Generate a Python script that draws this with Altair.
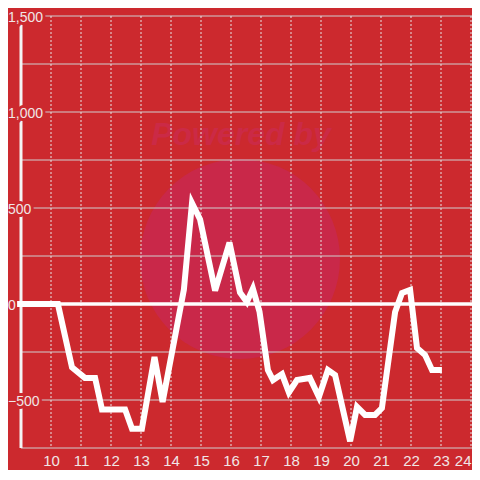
import altair as alt
import pandas as pd

# ---- data ----
hours = [8.87, 10.23, 10.7, 11.13, 11.47, 11.7, 12.47, 12.7, 13.03, 13.45, 13.72,
         14.43, 14.7, 14.97, 15.47, 15.95, 16.3, 16.53, 16.73, 16.95, 17.23, 17.4,
         17.7, 17.93, 18.2, 18.63, 18.93, 19.23, 19.47, 19.97, 20.2, 20.47, 20.8,
         21.03, 21.47, 21.7, 21.97, 22.2, 22.47, 22.7, 23.03]
values = [0, 0, -330, -385, -385, -550, -550, -650, -650, -276, -510,
          75, 526, 440, 70, 320, 60, 10, 80, -40, -344, -396,
          -365, -460, -396, -385, -484, -344, -370, -715, -536, -578, -578,
          -542, -42, 57, 73, -229, -266, -344, -344]
x_ticks = list(range(10, 25))
y_grid = [-750, -500, -250, 0, 250, 500, 750, 1000, 1250, 1500]
y_labels = [1500, 1000, 500, 0, -500]
zero_line = [0]
axis_at = [9]
watermark = ["Powered by"]

BG = "#cc292e"
FONT = "Liberation Sans"
LABEL = "#f0e6e6"

W, H = 451, 432
xs = alt.Scale(domain=[9, 9 + W / 30], nice=False, zero=False)
ys = alt.Scale(domain=[-750, 1500], nice=False, zero=False)

line_df = pd.DataFrame({"hour": hours, "value": values})
xt_df = pd.DataFrame({"hour": x_ticks})
yg_df = pd.DataFrame({"value": y_grid})
yl_df = pd.DataFrame({"value": y_labels})
z_df = pd.DataFrame({"value": zero_line})
ax_df = pd.DataFrame({"hour": axis_at})
wm_df = pd.DataFrame({"t": watermark})

x_axis = alt.Axis(values=x_ticks, format="d", grid=False, domain=False, ticks=False,
                  tickSize=0, labelPadding=5, labelFontSize=15, labelColor=LABEL,
                  labelFont=FONT, title=None, labelOverlap=False)

circle = alt.Chart(wm_df).mark_circle(size=40000, color="#c92849", opacity=1).encode(
    x=alt.value(219), y=alt.value(243))

powered = alt.Chart(wm_df).mark_text(font=FONT, fontSize=32, fontWeight="bold",
                                     fontStyle="italic", color="#cb2a46",
                                     align="center", baseline="alphabetic").encode(
    x=alt.value(220), y=alt.value(129), text="t:N")

hgrid = alt.Chart(yg_df).mark_rule(color="#cfcfcf", strokeWidth=1).encode(
    y=alt.Y("value:Q", scale=ys, axis=None))

vgrid = alt.Chart(xt_df).mark_rule(color="#e6e6e6", strokeWidth=1, strokeDash=[2, 2]).encode(
    x=alt.X("hour:Q", scale=xs, axis=x_axis))

zero = alt.Chart(z_df).mark_rule(color="#ffffff", strokeWidth=3.5).encode(
    y=alt.Y("value:Q", scale=ys, axis=None))

yaxis_line = alt.Chart(ax_df).mark_rule(color="#f4f4f4", strokeWidth=3).encode(
    x=alt.X("hour:Q", scale=xs, axis=x_axis))

halo = alt.Chart(yl_df).mark_text(font=FONT, fontSize=14, align="left", baseline="middle",
                                  dy=2, fill=BG, stroke=BG, strokeWidth=6,
                                  strokeJoin="round").encode(
    x=alt.value(-13), y=alt.Y("value:Q", scale=ys, axis=None),
    text=alt.Text("value:Q", format=","))

ylabels = alt.Chart(yl_df).mark_text(font=FONT, fontSize=14, align="left", baseline="middle",
                                     dy=2, color=LABEL).encode(
    x=alt.value(-13), y=alt.Y("value:Q", scale=ys, axis=None),
    text=alt.Text("value:Q", format=","))

data_line = alt.Chart(line_df).mark_line(color="#ffffff", strokeWidth=6,
                                         strokeJoin="miter").encode(
    x=alt.X("hour:Q", scale=xs, axis=x_axis),
    y=alt.Y("value:Q", scale=ys, axis=None))

chart = alt.layer(circle, powered, hgrid, vgrid, zero, yaxis_line, halo, ylabels,
                  data_line).properties(
    width=W, height=H,
    autosize=alt.AutoSizeParams(type="none"),
    padding={"left": 13, "top": 8, "right": 0, "bottom": 22},
    background=BG,
).configure_view(stroke=None)

chart.save("out.html", embed_options={"renderer": "svg", "actions": False})
